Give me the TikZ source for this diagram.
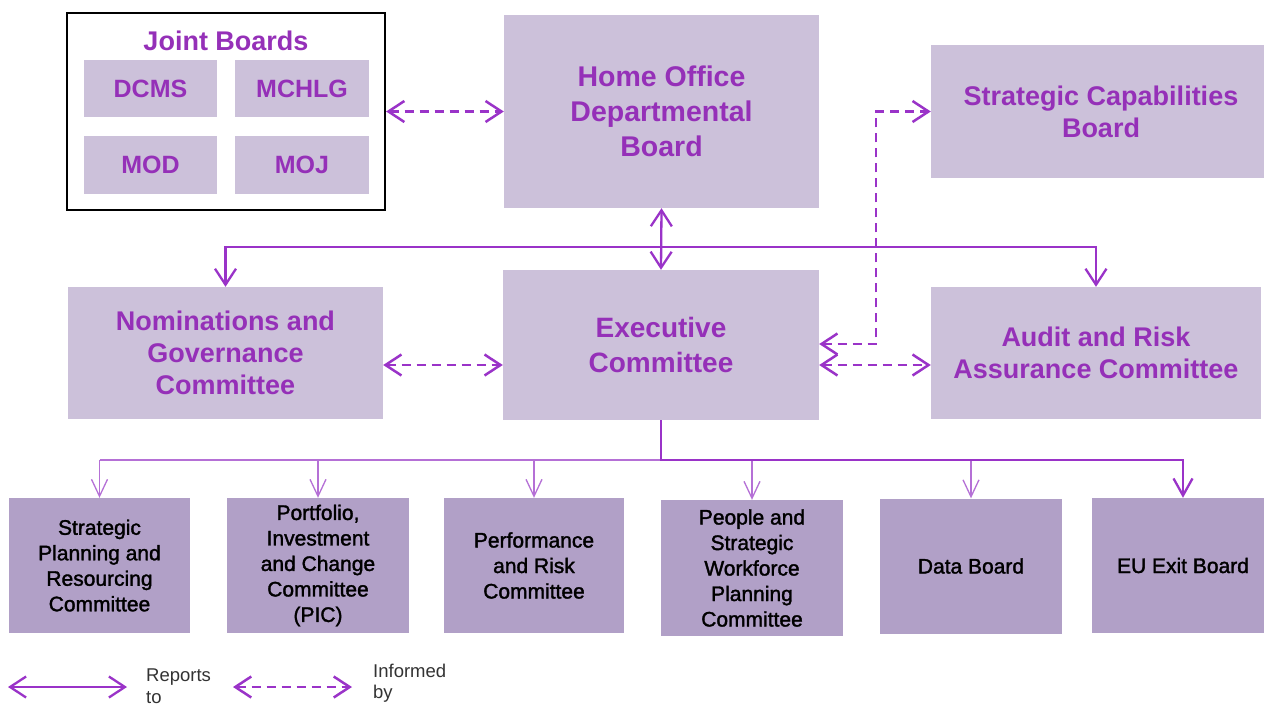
\documentclass[tikz,border=0pt]{standalone}
\usepackage{fontspec}
\setmainfont{Liberation Sans}
\newfontfamily\subfont{Liberation Sans}[FakeBold=1.6]
\usetikzlibrary{arrows.meta}

\definecolor{boardfill}{HTML}{CCC1DA}
\definecolor{subfill}{HTML}{B1A0C7}
\definecolor{ink}{HTML}{9530B8}
\definecolor{wire}{HTML}{9A33C8}
\definecolor{thinwire}{HTML}{B570D6}

\tikzset{
  box/.style={fill=boardfill, draw=none, inner sep=0pt, align=center,
    text=ink, font=\fontsize{27}{32}\selectfont\bfseries},
  subbox/.style={fill=subfill, draw=none, inner sep=0pt, align=center,
    text=black, font=\subfont\fontsize{21}{25.5}\selectfont,
    minimum height=135pt},
  tipbig/.tip={Straight Barb[length=16pt,width=21pt]},
  tipsmall/.tip={Straight Barb[length=17pt,width=16pt]},
  tipbold/.tip={Straight Barb[length=17pt,width=19pt]},
  rep/.style={draw=wire, line width=2.3pt, line join=miter},
  inf/.style={draw=wire, line width=2.5pt, dash pattern=on 9pt off 6pt},
  feed/.style={draw=thinwire, line width=1.3pt},
  legendtext/.style={align=left, inner sep=0pt, text=black!80,
    font=\fontsize{18.5}{21.5}\selectfont}
}

\begin{document}
\begin{tikzpicture}[x=1pt,y=-1pt]
\useasboundingbox[fill=white] (0,0) rectangle (1264,705);

% Joint Boards group
\node[draw=black, line width=2.2pt, fill=white, minimum width=318pt,
      minimum height=197pt, inner sep=0pt] (jb) at (226,111.5) {};
\node[text=ink, font=\fontsize{27}{32}\selectfont\bfseries] (jbt) at (226,41) {Joint Boards};
\node[box, font=\fontsize{25}{30}\selectfont\bfseries, minimum width=133pt, minimum height=57pt] (dcms) at (150.5,88.5) {DCMS};
\node[box, font=\fontsize{25}{30}\selectfont\bfseries, minimum width=134pt, minimum height=57pt] (mchlg) at (302,88.5) {MCHLG};
\node[box, font=\fontsize{25}{30}\selectfont\bfseries, minimum width=133pt, minimum height=58pt] (mod) at (150.5,165) {MOD};
\node[box, font=\fontsize{25}{30}\selectfont\bfseries, minimum width=134pt, minimum height=58pt] (moj) at (302,165) {MOJ};

% Boards and committees
\node[box, font=\fontsize{28.5}{35}\selectfont\bfseries, minimum width=315pt, minimum height=193pt] (hodb) at (661.5,111.5) {Home Office\\Departmental\\Board};
\node[box, minimum width=340pt, minimum height=133pt] (scb) at (1101,111.5) {Strategic Capabilities\\Board};
\node[box, minimum width=315pt, minimum height=132pt] (ngc) at (225.5,353) {Nominations and\\Governance\\Committee};
\node[box, font=\fontsize{28}{35}\selectfont\bfseries, minimum width=316pt, minimum height=150pt] (exec) at (661,345) {Executive\\Committee};
\node[box, minimum width=330pt, minimum height=132pt] (arac) at (1096,353) {Audit and Risk\\Assurance Committee};

% Sub-committees
\node[subbox, minimum width=181pt] (sprc) at (99.5,565.5) {Strategic\\Planning and\\Resourcing\\Committee};
\node[subbox, minimum width=182pt] (pic) at (318,565.5) {Portfolio,\\Investment\\and Change\\Committee\\(PIC)};
\node[subbox, minimum width=180pt] (prc) at (534,565.5) {Performance\\and Risk\\Committee};
\node[subbox, minimum width=182pt, minimum height=136pt] (pswpc) at (752,568) {People and\\Strategic\\Workforce\\Planning\\Committee};
\node[subbox, minimum width=182pt] (data) at (971,566) {Data Board};
\node[subbox, minimum width=182pt] (eu) at (1183,565.5) {EU Exit Board};

% Routing levels
\coordinate (top) at (0,247);
\coordinate (mid) at (0,365);
\coordinate (cap) at (0,344);
\coordinate (riser) at (876,0);
\coordinate (bus) at (0,460);

% Reporting lines
\draw[rep, tipbig-tipbig] (hodb.south) -- (exec.north);
\draw[rep, tipbig-tipbig] (ngc.north) -- (ngc.north |- top) -- (arac.north |- top) -- (arac.north);

% Informing lines
\draw[inf, tipbig-tipbig] (jb.east) -- (hodb.west);
\draw[inf, tipbig-tipbig] (mid -| ngc.east) -- (mid -| exec.west);
\draw[inf, tipbig-tipbig] (mid -| exec.east) -- (mid -| arac.west);
\draw[inf, tipbig-tipbig] (cap -| exec.east) -- (cap -| riser) -- (riser |- scb.west) -- (scb.west);

% Sub-committee feeds
\draw[feed] (sprc.north |- bus) -- (exec.south |- bus);
\foreach \n in {sprc,pic,prc,pswpc,data}
  \draw[feed, -tipsmall] (\n.north |- bus) -- (\n.north);
\draw[rep, -tipbold] (exec.south) -- (exec.south |- bus) -- (eu.north |- bus) -- (eu.north);

% Legend
\coordinate (la) at (8,687);
\coordinate (lb) at (127,687);
\coordinate (lc) at (233,687);
\coordinate (ld) at (352,687);
\draw[rep, tipbig-tipbig] (la) -- (lb);
\node[legendtext, anchor=west] (lrep) at (146,686) {Reports\\to};
\draw[inf, tipbig-tipbig] (lc) -- (ld);
\node[legendtext, anchor=west] (linf) at (373,683) {Informed\\by};
\end{tikzpicture}
\end{document}
